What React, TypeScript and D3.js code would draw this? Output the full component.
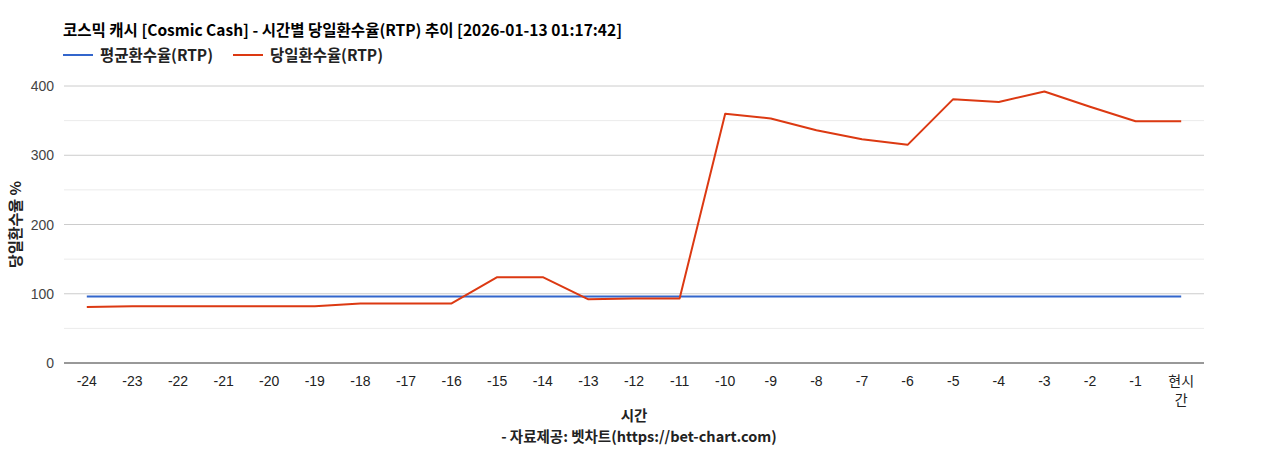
import React, { useRef, useEffect } from 'react';
import * as d3 from 'd3';

const hours = [
  '-24', '-23', '-22', '-21', '-20', '-19', '-18', '-17', '-16', '-15', '-14', '-13',
  '-12', '-11', '-10', '-9', '-8', '-7', '-6', '-5', '-4', '-3', '-2', '-1', '현시간',
];
const avgRtp = [
  96, 96, 96, 96, 96, 96, 96, 96, 96, 96, 96, 96, 96, 96, 96, 96, 96, 96, 96, 96, 96, 96, 96, 96, 96,
];
const dailyRtp = [
  81, 82, 82, 82, 82, 82, 86, 86, 86, 124, 124, 92, 93, 93, 360, 353, 336, 323, 315, 381, 377, 392, 370, 349, 349,
];
const yTicks = [0, 100, 200, 300, 400];
const yMinor = [50, 150, 250, 350];

const title = '코스믹 캐시 [Cosmic Cash] - 시간별 당일환수율(RTP) 추이 [2026-01-13 01:17:42]';
const seriesNames = ['평균환수율(RTP)', '당일환수율(RTP)'];
const colors = ['#3366cc', '#dc3912'];

const W = 1268;
const H = 450;
const KFONT = '"Noto Sans CJK KR", "Noto Sans", sans-serif';
const TFONT = 'Arial, "Liberation Sans", "Noto Sans CJK KR", sans-serif';

const App: React.FC = () => {
  const svgRef = useRef<SVGSVGElement | null>(null);

  useEffect(() => {
    const svg = d3.select(svgRef.current);
    svg.selectAll('*').remove();

    const margin = { top: 86, right: 64, bottom: 87, left: 64 };
    const innerW = W - margin.left - margin.right;
    const innerH = H - margin.top - margin.bottom;

    const x = d3.scaleBand<string>().domain(hours).range([0, innerW]);
    const y = d3.scaleLinear().domain([0, 400]).range([innerH, 0]);
    const cx = (d: string) => (x(d) || 0) + x.bandwidth() / 2;

    // title + legend
    svg.append('text')
      .attr('x', 63).attr('y', 36)
      .attr('font-family', KFONT).attr('font-size', 15.5).attr('font-weight', 'bold')
      .attr('fill', '#000')
      .attr('textLength', 559).attr('lengthAdjust', 'spacingAndGlyphs')
      .text(title);

    const legendX = [63, 233];
    seriesNames.forEach((name, i) => {
      svg.append('line')
        .attr('x1', legendX[i]).attr('x2', legendX[i] + 30)
        .attr('y1', 55).attr('y2', 55)
        .attr('stroke', colors[i]).attr('stroke-width', 2);
      svg.append('text')
        .attr('x', legendX[i] + 37).attr('y', 61)
        .attr('font-family', KFONT).attr('font-size', 15.5).attr('font-weight', 'bold')
        .attr('fill', '#222')
        .attr('textLength', 113).attr('lengthAdjust', 'spacingAndGlyphs')
        .text(name);
    });

    const g = svg.append('g').attr('transform', `translate(${margin.left},${margin.top})`);

    // gridlines
    g.selectAll('line.minor').data(yMinor).enter().append('line')
      .attr('x1', 0).attr('x2', innerW)
      .attr('y1', d => y(d)).attr('y2', d => y(d))
      .attr('stroke', '#ebebeb').attr('stroke-width', 1);
    g.selectAll('line.major').data(yTicks.slice(1)).enter().append('line')
      .attr('x1', 0).attr('x2', innerW)
      .attr('y1', d => y(d)).attr('y2', d => y(d))
      .attr('stroke', '#cccccc').attr('stroke-width', 1);

    // y tick labels
    g.selectAll('text.ytick').data(yTicks).enter().append('text')
      .attr('x', -10).attr('y', d => y(d) + 5)
      .attr('text-anchor', 'end')
      .attr('font-family', TFONT).attr('font-size', 14).attr('fill', '#444')
      .text(d => String(d));

    // lines
    const series = [avgRtp, dailyRtp];
    series.forEach((vals, i) => {
      const line = d3.line<number>()
        .x((_, j) => cx(hours[j]))
        .y(d => y(d));
      g.append('path')
        .datum(vals)
        .attr('d', line)
        .attr('fill', 'none')
        .attr('stroke', colors[i])
        .attr('stroke-width', 2)
        .attr('stroke-linejoin', 'round');
    });

    // baseline
    g.append('line')
      .attr('x1', 0).attr('x2', innerW)
      .attr('y1', y(0)).attr('y2', y(0))
      .attr('stroke', '#333').attr('stroke-width', 1);

    // x tick labels
    hours.forEach(h => {
      const t = g.append('text')
        .attr('x', cx(h)).attr('y', innerH + 23)
        .attr('text-anchor', 'middle')
        .attr('font-family', TFONT).attr('font-size', 14).attr('fill', '#222');
      if (h === '현시간') {
        t.append('tspan').attr('x', cx(h)).attr('dy', 0).text('현시');
        t.append('tspan').attr('x', cx(h)).attr('dy', 19).text('간');
      } else {
        t.text(h);
      }
    });

    // axis titles
    svg.append('text')
      .attr('x', margin.left + innerW / 2).attr('y', 421)
      .attr('text-anchor', 'middle')
      .attr('font-family', KFONT).attr('font-size', 14.5).attr('font-weight', 'bold')
      .attr('fill', '#222')
      .text('시간');
    svg.append('text')
      .attr('x', 639).attr('y', 442)
      .attr('text-anchor', 'middle')
      .attr('font-family', KFONT).attr('font-size', 14.5).attr('font-weight', 'bold')
      .attr('fill', '#222')
      .text('- 자료제공: 벳차트(https://bet-chart.com)');
    svg.append('text')
      .attr('transform', `translate(21,${margin.top + innerH / 2}) rotate(-90)`)
      .attr('text-anchor', 'middle')
      .attr('font-family', KFONT).attr('font-size', 15).attr('font-weight', 'bold')
      .attr('fill', '#222')
      .text('당일환수율 %');
  }, []);

  return (
    <div style={{ position: 'absolute', left: 0, top: 0 }}>
      <svg ref={svgRef} width={W} height={H} style={{ display: 'block', background: '#fff' }} />
    </div>
  );
};

export default App;
